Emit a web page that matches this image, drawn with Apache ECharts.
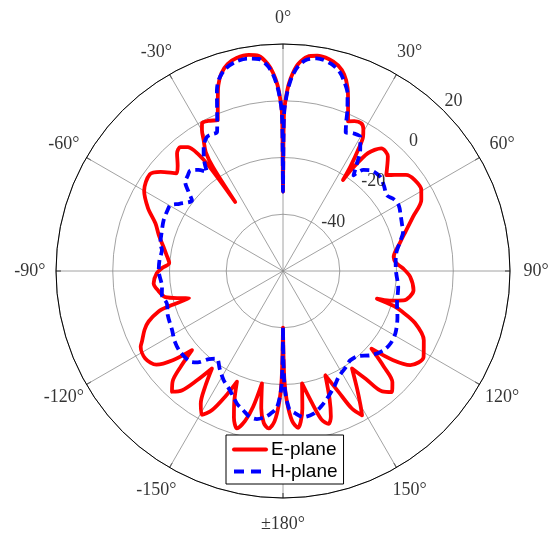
<!DOCTYPE html>
<html>
<head>
<meta charset="utf-8">
<script src="https://cdn.jsdelivr.net/npm/echarts@6/dist/echarts.min.js"></script>
<style>
  html, body { margin: 0; padding: 0; background: #fff; }
  #chart { width: 548px; height: 536px; }
</style>
</head>
<body>
<div id="chart"></div>
<script>
// Radiation pattern, gain in dB versus angle in degrees (0° at top, clockwise)
const eAngle = [-180, -179.3, -178.4, -176.8, -174.8, -172.8, -171, -169.4, -167.6, -165.8, -163.7, -161.5, -159.5, -157.4,
  -155.2, -153, -150.6, -148.2, -146, -143.9, -141.8, -139.8, -137.4, -135, -133, -131, -129, -126.5, -122.4, -118,
  -116.6, -113, -110.6, -108, -107.3, -106.2, -105, -102.5, -99, -95.5, -91, -88.5, -86, -82, -78.5, -74, -69.5, -65,
  -60, -54, -51, -47.5, -45, -42, -39.6, -37.5, -36, -35.2, -34.7, -34, -33, -31.2, -29.9, -28.7, -26.5, -24, -23.4,
  -20.9, -19.2, -17.3, -15, -12.3, -9, -6.5, -4.3, -2.8, -1.75, -1.05, -0.43, -0.2, 0,
  0.2, 0.43, 1.05, 1.75, 2.8, 4.3, 6.5, 9, 12.3, 15, 17.3, 19.4, 21, 23.5, 25.5, 27.9, 29.5, 30.8, 31.8, 32.8, 33.4,
  34.1, 35.8, 38.7, 42.5, 47.1, 49.3, 52, 55.3, 59.6, 62.8, 67.3, 72, 76.6, 82.8, 86, 89, 92.7, 98.4, 103.7, 105.5,
  106.4, 107.5, 108.5, 111.5, 116.2, 121.5, 126.5, 129, 131.3, 133.5, 135.5, 138, 140.5, 142.5, 144.7, 147.8, 150,
  151.3, 153.4, 155.3, 157.9, 160, 161.8, 163.4, 165.5, 167.5, 170.4, 172, 173.3, 174.5, 176.5, 178.3, 179.3, 180];
const eGain = [-40, -22, -14, -7, -4.3, -6, -11, -19.7, -11, -5.5, -2.2, -5.5, -11, -17.8,
  -11, -5, -1.8, -5, -11, -17.5, -11, -5, -2.2, -5, -11, -17.5, -10, -4.5, -2.5, -3.2,
  -4.4, -7, -9.4, -14, -17, -25.5, -23, -17.5, -15.5, -14.2, -15.5, -17.5, -19.8, -18.5, -17, -14.5, -12, -7.5,
  -3.5, -2, -4.5, -9, -7.5, -4.2, -3.3, -5, -9, -15, -30.4, -16, -10, -6, -2.7, -0.6, -0.9, -1.9, -2.1,
  4.4, 9.3, 13, 15.5, 16.8, 17.1, 16.3, 13.3, 9.7, 5.8, 1.6, -3.4, -14, -32,
  -14, -3.4, 1.6, 5.8, 9.7, 13.3, 16, 16.8, 16.4, 15, 12.5, 8.5, 4, -2.5, -1.5, -1.1, -2.5, -4.9, -9.8, -16, -21.6,
  -16.5, -8.8, -4.6, -5.3, -10.3, -8.1, -5, -3.6, -3.5, -5.2, -10.3, -14.5, -17.7, -20.7, -20, -17.5, -15.1, -13.5, -16.3, -21,
  -25.5, -19, -16.4, -10, -4.7, -1.9, -4.2, -10, -18.5, -11, -5, -2.6, -5, -12, -17.9, -11, -5.4,
  -2, -5.8, -13, -20.3, -12, -6, -3.8, -6, -12, -19.8, -11, -6.5, -4.5, -7, -14, -22, -40];

const hAngle = [-180, -179.3, -177.5, -175, -173, -170, -167, -164, -160.9, -156, -151.5, -147, -143, -140, -137, -135,
  -128.3, -123, -118.1, -111, -105.7, -101, -97.5, -90, -85, -80.2, -77.4, -73, -67, -62, -59.7, -57, -52.2, -50,
  -47.7, -45, -42.6, -40, -37.5, -36, -34, -32.6, -29.6, -27.5, -25.4, -24, -22.3, -20.1, -18.5, -16, -13, -9.5,
  -6.5, -4.3, -2.8, -1.75, -1.05, -0.43, -0.2, 0,
  0.2, 0.43, 1.05, 1.75, 2.8, 4.3, 6.5, 9, 13, 16, 18, 20, 21.8, 23, 24.3, 27, 30, 32.6, 34.5, 36.4, 38.5, 40.9,
  46, 50, 53.9, 57, 60.4, 65, 68.3, 72, 76, 81, 86, 91, 98, 106, 112, 119, 124, 128.3, 134, 138.5, 143, 147,
  152.3, 156, 161, 164.5, 167.9, 172, 175.3, 177.5, 179.3, 180];
const hGain = [-40, -20, -12, -9.5, -8.2, -7, -7.3, -9, -10.5, -14, -16.2, -19, -21.3, -19.5, -16, -14.6,
  -13.9, -14.5, -15.7, -16.5, -17.5, -16.5, -17, -16.2, -16.3, -16.7, -15.7, -15.2, -14.3, -14, -14, -16.5, -19.4, -16.5,
  -13.4, -12.5, -11.8, -13.5, -16, -13, -10, -8.1, -5.7, -5.7, -5.8, -3, 1.2, 7.8, 11.2, 14, 15.5, 15.9,
  15.2, 12.5, 9, 5, 1, -4, -14, -32,
  -14, -4, 1, 5, 9, 12.5, 15, 15.9, 15, 12.8, 10, 6.5, 1.1, -3, -6.3, -5.5, -5.5, -9.5, -14, -18.1, -14.5, -13,
  -12.3, -13.5, -14.7, -13.5, -13.1, -14.2, -14.9, -15.5, -17.5, -19.6, -20.2, -20.1, -19, -18.2, -16.5, -14.7, -14.3, -14.9, -17.2, -20, -20.6, -19.5,
  -17.8, -15.5, -12.4, -10.3, -8.6, -8, -9.8, -11.5, -20, -40];

// Axis ticks and their labels
const radialTicks = [-40, -20, 0, 20];
const angleTicks = [-150, -120, -90, -60, -30, 0, 30, 60, 90, 120, 150, 180];
const angleTickLabels = ['-150°', '-120°', '-90°', '-60°', '-30°', '0°', '30°', '60°', '90°', '120°', '150°', '±180°'];

const pair = (gain, angle) => gain.map((g, i) => [g, angle[i]]);
const serif = '"Liberation Serif", "Times New Roman", serif';
const sans = '"Liberation Sans", Arial, sans-serif';
const labelRadius = 29.2;   // dB level where the angle labels sit, just outside the rim
const radialLabelAngle = 45; // direction of the dB labels

const chart = echarts.init(document.getElementById('chart'), null, { renderer: 'canvas' });
chart.setOption({
  animation: false,
  backgroundColor: '#fff',
  polar: { center: [283, 271], radius: 227 },
  angleAxis: {
    type: 'value', min: -180, max: 180, interval: 30,
    startAngle: 270, clockwise: true, z: 1,
    axisLine: { lineStyle: { color: '#000', width: 1 } },
    axisTick: { show: true, inside: true, length: 5, lineStyle: { color: '#000', width: 1 } },
    axisLabel: { show: false },
    splitLine: { show: true, lineStyle: { color: '#8a8a8a', width: 0.8 } }
  },
  radiusAxis: {
    type: 'value', min: -60, max: 20, interval: 20, z: 0,
    axisLine: { show: false }, axisTick: { show: false }, axisLabel: { show: false },
    splitLine: { show: true, lineStyle: { color: '#8a8a8a', width: 0.8 } }
  },
  legend: {
    left: 226, top: 435, orient: 'vertical',
    padding: [5, 6, 3, 6], itemGap: 3, itemWidth: 32, itemHeight: 14,
    borderColor: '#000', borderWidth: 1, borderRadius: 0, backgroundColor: '#fff',
    textStyle: { fontFamily: sans, fontSize: 19, color: '#000' },
    itemStyle: { opacity: 0 },
    lineStyle: { width: 4 },
    data: [
      { name: 'E-plane' },
      { name: 'H-plane', lineStyle: { width: 4, type: [10, 7] } }
    ]
  },
  series: [
    {
      name: 'E-plane', type: 'line', coordinateSystem: 'polar',
      symbol: 'none', smooth: 0.3, z: 3,
      data: pair(eGain, eAngle),
      itemStyle: { color: '#ff0000' },
      lineStyle: { color: '#ff0000', width: 3.8, join: 'round', cap: 'round' }
    },
    {
      name: 'H-plane', type: 'line', coordinateSystem: 'polar',
      symbol: 'none', smooth: 0.3, z: 4,
      data: pair(hGain, hAngle),
      itemStyle: { color: '#0000ff' },
      lineStyle: { color: '#0000ff', width: 3.8, type: [9, 5], join: 'round' }
    },
    {
      type: 'scatter', coordinateSystem: 'polar', silent: true, clip: false,
      symbolSize: 0, z: 6,
      data: angleTicks.map((a, i) => ({ value: [labelRadius, a], label: { formatter: angleTickLabels[i] } })),
      label: { show: true, position: 'inside', color: '#000', fontFamily: serif, fontSize: 18 }
    },
    {
      type: 'scatter', coordinateSystem: 'polar', silent: true, clip: false,
      symbolSize: 0, z: 6,
      data: radialTicks.map(v => [v, radialLabelAngle]),
      label: {
        show: true, position: 'inside', offset: [10, -9],
        formatter: p => String(p.value[0]),
        color: '#000', fontFamily: serif, fontSize: 18
      }
    }
  ]
});
</script>
</body>
</html>
